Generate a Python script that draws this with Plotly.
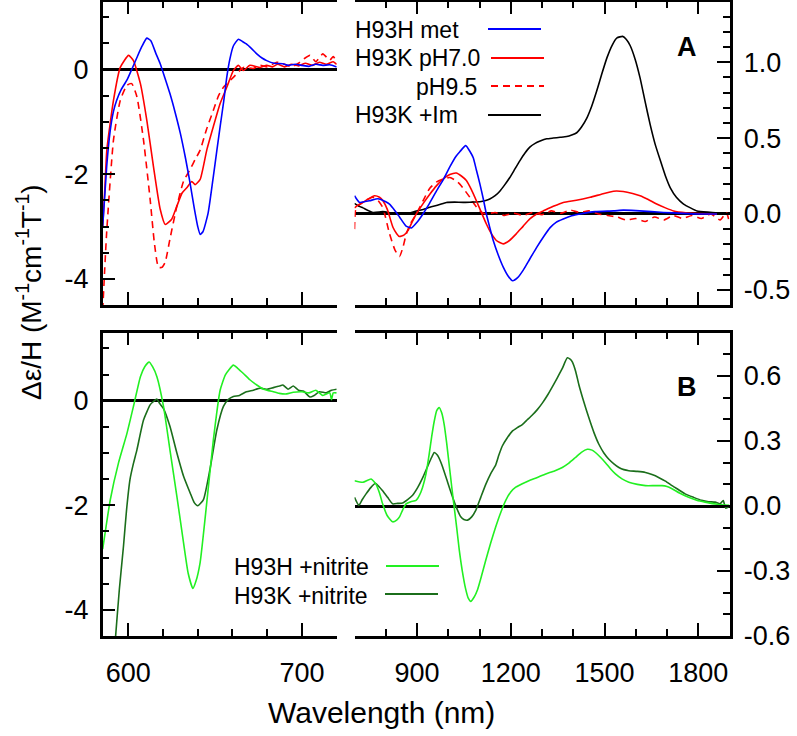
import plotly.graph_objects as go

W, H = 797, 736

# ---------------- data ----------------
# Panel A, visible region (nm, left axis)
a_vis_met_x = [585.3, 587.6, 589.5, 591.5, 593.3, 596, 599.3, 602, 605, 608, 610.7, 613, 616, 618.4, 621, 624, 627, 630, 633, 635.6, 638, 640, 641.4, 643, 646, 649, 651, 652.9, 655, 656.7, 658.5, 660.5, 663.4, 666, 668, 671, 674, 677, 679.7, 684, 689, 692, 696, 700, 704, 708, 712, 716, 720]
a_vis_met_y = [-3.0, -1.85, -1.2, -0.8, -0.59, -0.38, -0.2, 0.0, 0.23, 0.45, 0.6, 0.55, 0.3, 0.11, -0.15, -0.46, -0.82, -1.22, -1.7, -2.17, -2.65, -3.0, -3.15, -3.1, -2.74, -2.04, -1.55, -1.09, -0.6, -0.15, 0.2, 0.45, 0.58, 0.53, 0.49, 0.4, 0.3, 0.22, 0.17, 0.12, 0.11, 0.08, 0.1, 0.08, 0.06, 0.1, 0.08, 0.09, 0.05]

a_vis_k7_x = [585.3, 586.5, 587.7, 591.5, 595.4, 600.2, 603, 607, 610.7, 614.5, 618.4, 621.3, 625, 628, 631, 633.7, 636.6, 638.5, 641.4, 645.2, 649, 652.9, 656.7, 660.5, 663.4, 666.3, 670, 676, 679.7, 683, 686, 690, 694, 698, 702, 706, 710, 714, 718, 720]
a_vis_k7_y = [-3.0, -2.3, -1.53, -0.59, 0.04, 0.27, 0.17, -0.27, -0.97, -1.85, -2.67, -2.96, -2.86, -2.61, -2.36, -2.26, -2.14, -2.2, -2.1, -1.54, -1.09, -0.65, -0.34, -0.02, 0.08, -0.02, 0.08, 0.04, 0.08, 0.05, 0.1, 0.05, 0.1, 0.07, 0.12, 0.08, 0.14, 0.1, 0.15, 0.1]

a_vis_k95_x = [585.3, 587.6, 591.5, 595.4, 599.3, 602, 605, 608.8, 612.6, 615, 617.4, 619.5, 621.3, 624, 628, 631.8, 635.6, 638.5, 641.4, 645, 649, 652, 654.8, 660.5, 666.3, 672, 676, 680, 685.5, 690, 694, 698, 701, 704.6, 708, 712, 716, 718, 720]
a_vis_k95_y = [-4.6, -3.1, -1.35, -0.59, -0.3, -0.27, -0.52, -1.35, -2.48, -3.3, -3.78, -3.78, -3.68, -3.24, -2.61, -2.14, -1.91, -1.72, -1.54, -1.15, -0.78, -0.5, -0.34, -0.15, 0.04, 0.02, 0.08, 0.05, 0.14, 0.1, 0.05, 0.12, 0.2, 0.27, 0.15, 0.3, 0.18, 0.25, 0.14]

# Panel A, near-IR region (nm, right axis)
a_nir_met_x = [700, 716, 748, 775, 800, 812, 830, 844, 865, 882, 900, 919, 940, 962, 985, 1005, 1025, 1037, 1056, 1070, 1080, 1090, 1101, 1112, 1122, 1133, 1144, 1160, 1176, 1192, 1206, 1222, 1240, 1260, 1283, 1305, 1326, 1345, 1368, 1395, 1422, 1470, 1529, 1560, 1600, 1650, 1689, 1750, 1800, 1900]
a_nir_met_y = [0.12, 0.076, 0.087, 0.10, 0.08, 0.065, 0.02, -0.02, -0.08, -0.092, -0.055, 0.0, 0.07, 0.15, 0.23, 0.31, 0.38, 0.41, 0.45, 0.41, 0.37, 0.29, 0.20, 0.10, 0.0, -0.09, -0.175, -0.27, -0.35, -0.41, -0.44, -0.42, -0.37, -0.30, -0.22, -0.15, -0.09, -0.055, -0.033, -0.012, 0.0, 0.015, 0.02, 0.025, 0.022, 0.015, 0.01, 0.004, 0.0, 0.0]

a_nir_k7_x = [700, 712, 727, 745, 764, 780, 791, 805, 823, 835, 844, 858, 871, 885, 898, 920, 941, 962, 983, 1005, 1026, 1042, 1058, 1074, 1090, 1106, 1122, 1138, 1154, 1176, 1196, 1218, 1240, 1261, 1283, 1304, 1336, 1368, 1410, 1454, 1490, 1529, 1560, 1590, 1614, 1640, 1667, 1695, 1721, 1760, 1800, 1850, 1900]
a_nir_k7_y = [0.04, 0.06, 0.076, 0.10, 0.12, 0.11, 0.087, 0.03, -0.088, -0.13, -0.149, -0.14, -0.11, -0.05, 0.0, 0.07, 0.13, 0.185, 0.23, 0.26, 0.27, 0.25, 0.22, 0.16, 0.087, 0.01, -0.066, -0.13, -0.175, -0.197, -0.175, -0.13, -0.08, -0.033, 0.0, 0.02, 0.05, 0.076, 0.09, 0.11, 0.13, 0.15, 0.148, 0.135, 0.12, 0.095, 0.065, 0.04, 0.02, 0.008, 0.003, 0.0, 0.0]

a_nir_k95_x = [700, 705, 727, 758, 775, 791, 812, 830, 844, 855, 866, 880, 898, 920, 941, 962, 983, 1005, 1020, 1037, 1053, 1069, 1085, 1101, 1120, 1150, 1180, 1210, 1240, 1270, 1300, 1330, 1360, 1390, 1420, 1450, 1480, 1510, 1540, 1570, 1600, 1630, 1660, 1690, 1720, 1750, 1780, 1810, 1840, 1870, 1890, 1900]
a_nir_k95_y = [-0.10, 0.04, 0.076, 0.11, 0.09, 0.04, -0.13, -0.24, -0.28, -0.22, -0.13, -0.06, 0.0, 0.09, 0.17, 0.21, 0.23, 0.24, 0.225, 0.197, 0.155, 0.11, 0.06, 0.02, 0.0, 0.01, -0.01, 0.005, -0.01, 0.01, -0.005, 0.02, 0.005, 0.025, 0.01, 0.02, 0.0, -0.01, -0.02, -0.04, -0.03, -0.05, -0.02, -0.04, -0.01, -0.03, -0.01, -0.03, 0.0, -0.04, 0.01, -0.06]

a_nir_im_x = [700, 715, 727, 759, 790, 810, 833, 866, 898, 920, 941, 970, 994, 1020, 1048, 1075, 1101, 1120, 1133, 1150, 1165, 1180, 1197, 1213, 1229, 1245, 1261, 1278, 1294, 1315, 1336, 1358, 1379, 1395, 1411, 1427, 1443, 1459, 1475, 1491, 1508, 1524, 1540, 1558, 1570, 1582, 1598, 1614, 1630, 1646, 1662, 1679, 1695, 1711, 1730, 1753, 1775, 1796, 1830, 1860, 1900]
a_nir_im_y = [0.07, 0.05, 0.04, 0.01, 0.015, 0.01, 0.0, 0.0, 0.02, 0.03, 0.044, 0.06, 0.076, 0.078, 0.076, 0.078, 0.08, 0.088, 0.098, 0.12, 0.15, 0.19, 0.24, 0.295, 0.35, 0.40, 0.44, 0.465, 0.48, 0.495, 0.50, 0.505, 0.51, 0.52, 0.535, 0.575, 0.63, 0.71, 0.81, 0.92, 1.03, 1.11, 1.16, 1.17, 1.15, 1.11, 1.02, 0.895, 0.74, 0.59, 0.46, 0.35, 0.25, 0.17, 0.11, 0.065, 0.04, 0.02, 0.012, 0.008, 0.0]

# Panel B, visible region
b_vis_h_x = [585.3, 589.7, 594.4, 599.3, 603, 607, 609.5, 612, 614, 616.5, 620.3, 624, 628, 631.8, 634.5, 637.2, 639, 641.4, 645.2, 649, 652.9, 656, 660.5, 663, 666.3, 670, 674, 678, 683.5, 687, 691.2, 695, 700, 704, 708, 712, 716, 717, 718, 720]
b_vis_h_y = [-2.84, -1.89, -1.19, -0.62, -0.11, 0.46, 0.65, 0.74, 0.65, 0.46, -0.11, -0.94, -1.83, -2.71, -3.3, -3.59, -3.45, -3.09, -1.95, -0.75, 0.2, 0.5, 0.68, 0.62, 0.52, 0.4, 0.30, 0.22, 0.17, 0.14, 0.13, 0.16, 0.17, 0.15, 0.2, 0.1, 0.15, 0.02, 0.15, 0.15]

b_vis_k_x = [591.5, 592.5, 594.9, 597.3, 599, 601, 603, 605, 608.8, 612.6, 614, 616.5, 618, 620.3, 624, 628, 631.8, 635.6, 638, 640, 643.3, 647, 651, 654.8, 657.5, 660.5, 664, 668, 672, 676, 680, 683.5, 687, 689, 692, 695, 698, 701, 704.6, 707, 710, 714, 717, 720]
b_vis_k_y = [-5.0, -4.6, -3.6, -2.77, -2.1, -1.51, -1.2, -0.94, -0.37, -0.08, -0.03, 0.03, -0.05, -0.15, -0.49, -1.0, -1.44, -1.76, -1.95, -2.01, -1.89, -1.32, -0.56, -0.11, 0.02, 0.08, 0.1, 0.17, 0.2, 0.24, 0.22, 0.25, 0.28, 0.3, 0.22, 0.28, 0.2, 0.18, 0.07, 0.1, 0.17, 0.15, 0.2, 0.22]

# Panel B, near-IR region
b_nir_h_x = [700, 727, 753, 769, 780, 790, 805, 822, 835, 844, 855, 865, 880, 897, 908, 918, 929, 939, 947, 955, 963, 971, 979, 987, 995, 1003, 1011, 1019, 1027, 1035, 1045, 1056, 1064, 1072, 1083, 1094, 1107, 1120, 1136, 1152, 1168, 1184, 1200, 1216, 1237, 1258, 1285, 1312, 1340, 1365, 1386, 1407, 1426, 1445, 1460, 1471, 1487, 1503, 1519, 1535, 1556, 1578, 1605, 1631, 1660, 1684, 1700, 1716, 1740, 1769, 1795, 1822, 1860, 1900]
b_nir_h_y = [0.117, 0.11, 0.125, 0.10, 0.06, 0.01, -0.045, -0.073, -0.065, -0.05, -0.015, 0.01, 0.02, 0.026, 0.05, 0.087, 0.15, 0.24, 0.32, 0.39, 0.44, 0.455, 0.43, 0.376, 0.29, 0.19, 0.09, -0.005, -0.10, -0.20, -0.30, -0.385, -0.425, -0.44, -0.42, -0.385, -0.32, -0.25, -0.17, -0.096, -0.03, 0.026, 0.065, 0.087, 0.103, 0.117, 0.132, 0.148, 0.162, 0.178, 0.198, 0.224, 0.248, 0.262, 0.258, 0.247, 0.225, 0.20, 0.172, 0.148, 0.125, 0.11, 0.10, 0.094, 0.094, 0.094, 0.09, 0.08, 0.06, 0.04, 0.027, 0.018, 0.008, 0.003]

b_nir_k_x = [700, 714, 725, 737, 752, 767, 778, 790, 806, 822, 838, 854, 870, 886, 902, 918, 936, 947, 955, 965, 974, 982, 998, 1014, 1027, 1040, 1050, 1062, 1075, 1088, 1104, 1120, 1136, 1152, 1162, 1173, 1189, 1205, 1221, 1237, 1253, 1269, 1285, 1301, 1317, 1333, 1349, 1365, 1381, 1390, 1397, 1408, 1418, 1434, 1450, 1466, 1482, 1498, 1514, 1530, 1546, 1562, 1578, 1605, 1631, 1652, 1673, 1695, 1716, 1737, 1758, 1785, 1811, 1833, 1854, 1870, 1880, 1888, 1900]
b_nir_k_y = [0.04, 0.003, 0.03, 0.056, 0.085, 0.105, 0.09, 0.07, 0.04, 0.01, 0.012, 0.014, 0.03, 0.05, 0.085, 0.13, 0.19, 0.225, 0.247, 0.235, 0.21, 0.18, 0.11, 0.04, -0.01, -0.05, -0.062, -0.065, -0.05, -0.02, 0.04, 0.10, 0.15, 0.19, 0.235, 0.277, 0.315, 0.346, 0.362, 0.376, 0.398, 0.42, 0.445, 0.475, 0.51, 0.55, 0.592, 0.635, 0.684, 0.678, 0.665, 0.62, 0.56, 0.48, 0.407, 0.34, 0.285, 0.245, 0.216, 0.195, 0.178, 0.168, 0.163, 0.16, 0.155, 0.145, 0.132, 0.115, 0.094, 0.075, 0.056, 0.04, 0.026, 0.02, 0.018, 0.01, 0.025, -0.01, 0.0]

# tick labels
vis_x_ticks = [600, 700]
vis_x_text = ["600", "700"]
nir_x_ticks = [900, 1200, 1500, 1800]
nir_x_text = ["900", "1200", "1500", "1800"]
left_y_ticks = [-4, -2, 0]
left_y_text = ["-4", "-2", "0"]
a_right_ticks = [-0.5, 0.0, 0.5, 1.0]
a_right_text = ["-0.5", "0.0", "0.5", "1.0"]
b_right_ticks = [-0.6, -0.3, 0.0, 0.3, 0.6]
b_right_text = ["-0.6", "-0.3", "0.0", "0.3", "0.6"]

legend_a = ["H93H met", "H93K pH7.0", "pH9.5", "H93K +Im"]
legend_b = ["H93H +nitrite", "H93K +nitrite"]

BLUE = "#0000ff"
RED = "#ff0000"
BLACK = "#000000"
LGREEN = "#22f022"
DGREEN = "#1b6e1b"
FONT = "Liberation Sans, Arial, sans-serif"
LW = 1.6
DASH = "7px,5px"


def px(x):
    return x / W


def py(y):
    return 1 - y / H


fig = go.Figure()


def add(x, y, color, xa, ya, dash=None):
    fig.add_trace(go.Scatter(x=x, y=y, mode="lines", xaxis=xa, yaxis=ya,
                             line=dict(color=color, width=LW, dash=dash, shape="spline", smoothing=0.5),
                             showlegend=False, hoverinfo="skip"))


add(a_vis_k95_x, a_vis_k95_y, RED, "x", "y", DASH)
add(a_vis_k7_x, a_vis_k7_y, RED, "x", "y")
add(a_vis_met_x, a_vis_met_y, BLUE, "x", "y")

add(a_nir_k95_x, a_nir_k95_y, RED, "x2", "y2", DASH)
add(a_nir_im_x, a_nir_im_y, BLACK, "x2", "y2")
add(a_nir_k7_x, a_nir_k7_y, RED, "x2", "y2")
add(a_nir_met_x, a_nir_met_y, BLUE, "x2", "y2")

add(b_vis_k_x, b_vis_k_y, DGREEN, "x3", "y3")
add(b_vis_h_x, b_vis_h_y, LGREEN, "x3", "y3")
add(b_nir_k_x, b_nir_k_y, DGREEN, "x4", "y4")
add(b_nir_h_x, b_nir_h_y, LGREEN, "x4", "y4")

XL = [px(102.7), px(336.7)]
XR = [px(354.5), px(729.5)]
YT = [py(305), py(1.5)]
YB = [py(636), py(332.7)]

tickfont = dict(family=FONT, size=27, color="black")
common = dict(showline=True, linecolor="black", linewidth=2.5, ticks="inside",
              tickcolor="black", tickwidth=2, ticklen=13, showgrid=False,
              tickfont=tickfont, automargin=False)


def xaxis(domain, rng, anchor, tv, tt, minor_dt, labels):
    return dict(domain=domain, range=rng, anchor=anchor, mirror="ticks",
                tickmode="array", tickvals=tv, ticktext=tt, showticklabels=labels,
                zeroline=False, ticklabelstandoff=11,
                minor=dict(dtick=minor_dt, tick0=0, ticks="inside", ticklen=7,
                           tickwidth=2, tickcolor="black", showgrid=False),
                **common)


def yaxis(domain, rng, anchor, tv, tt, minor_dt, side, standoff):
    return dict(domain=domain, range=rng, anchor=anchor, side=side, mirror=False,
                tickmode="array", tickvals=tv, ticktext=tt,
                zeroline=True, zerolinecolor="black", zerolinewidth=2.5,
                ticklabelstandoff=standoff,
                minor=dict(dtick=minor_dt, tick0=0, ticks="inside", ticklen=7,
                           tickwidth=2, tickcolor="black", showgrid=False),
                **common)


fig.update_layout(
    template="none",
    width=W, height=H, margin=dict(l=0, r=0, t=0, b=0, pad=0),
    paper_bgcolor="white", plot_bgcolor="white",
    font=dict(family=FONT, color="black"),
    xaxis=xaxis(XL, [585.3, 720], "y", vis_x_ticks, vis_x_text, 20, False),
    yaxis=yaxis(YT, [-4.5, 1.3], "x", left_y_ticks, left_y_text, 0.5, "left", 6),
    xaxis2=xaxis(XR, [700, 1900], "y2", nir_x_ticks, nir_x_text, 100, False),
    yaxis2=yaxis(YT, [-0.6, 1.4], "x2", a_right_ticks, a_right_text, 0.1, "right", 6),
    xaxis3=xaxis(XL, [585.3, 720], "y3", vis_x_ticks, vis_x_text, 20, True),
    yaxis3=yaxis(YB, [-4.5, 1.3], "x3", left_y_ticks, left_y_text, 0.5, "left", 6),
    xaxis4=xaxis(XR, [700, 1900], "y4", nir_x_ticks, nir_x_text, 100, True),
    yaxis4=yaxis(YB, [-0.6, 0.8], "x4", b_right_ticks, b_right_text, 0.1, "right", 6),
)

ann = []
# legend A
ann.append(dict(text=legend_a[0], x=px(353), y=py(30), xanchor="left"))
ann.append(dict(text=legend_a[1], x=px(353), y=py(58), xanchor="left"))
ann.append(dict(text=legend_a[2], x=px(479), y=py(87), xanchor="right"))
ann.append(dict(text=legend_a[3], x=px(353), y=py(115), xanchor="left"))
# legend B
ann.append(dict(text=legend_b[0], x=px(232), y=py(567), xanchor="left"))
ann.append(dict(text=legend_b[1], x=px(232), y=py(596), xanchor="left"))
for a in ann:
    a.update(xref="paper", yref="paper", yanchor="middle", showarrow=False,
             font=dict(family=FONT, size=23, color="black"))
ann.append(dict(text="<b>A</b>", x=px(687), y=py(47), xref="paper", yref="paper",
                xanchor="center", yanchor="middle", showarrow=False,
                font=dict(family=FONT, size=27, color="black")))
ann.append(dict(text="<b>B</b>", x=px(687), y=py(387), xref="paper", yref="paper",
                xanchor="center", yanchor="middle", showarrow=False,
                font=dict(family=FONT, size=27, color="black")))
ann.append(dict(text="Wavelength (nm)", x=px(381), y=py(712), xref="paper", yref="paper",
                xanchor="center", yanchor="middle", showarrow=False,
                font=dict(family=FONT, size=30, color="black")))
ann.append(dict(text="Δε/H (M<sup>-1</sup>cm<sup>-1</sup>T<sup>-1</sup>)", x=px(29), y=py(292),
                xref="paper", yref="paper", xanchor="center", yanchor="middle",
                textangle=-90, showarrow=False,
                font=dict(family=FONT, size=28, color="black")))
fig.update_layout(annotations=ann)

shapes = []
def seg(x0, x1, y, color, dash=None):
    shapes.append(dict(type="line", xref="paper", yref="paper",
                       x0=px(x0), x1=px(x1), y0=py(y), y1=py(y),
                       line=dict(color=color, width=2, dash=dash)))

seg(488, 541, 29, BLUE)
seg(491, 544, 58, RED)
seg(491, 544, 86, RED, DASH)
seg(488, 541, 115, BLACK)
seg(386, 439, 566, LGREEN)
seg(385, 438, 594, DGREEN)
fig.update_layout(shapes=shapes)

fig.write_html("out.html", config={"displayModeBar": False},
               post_script="document.body.style.margin='0';document.body.style.padding='0';document.body.style.overflow='hidden';")
